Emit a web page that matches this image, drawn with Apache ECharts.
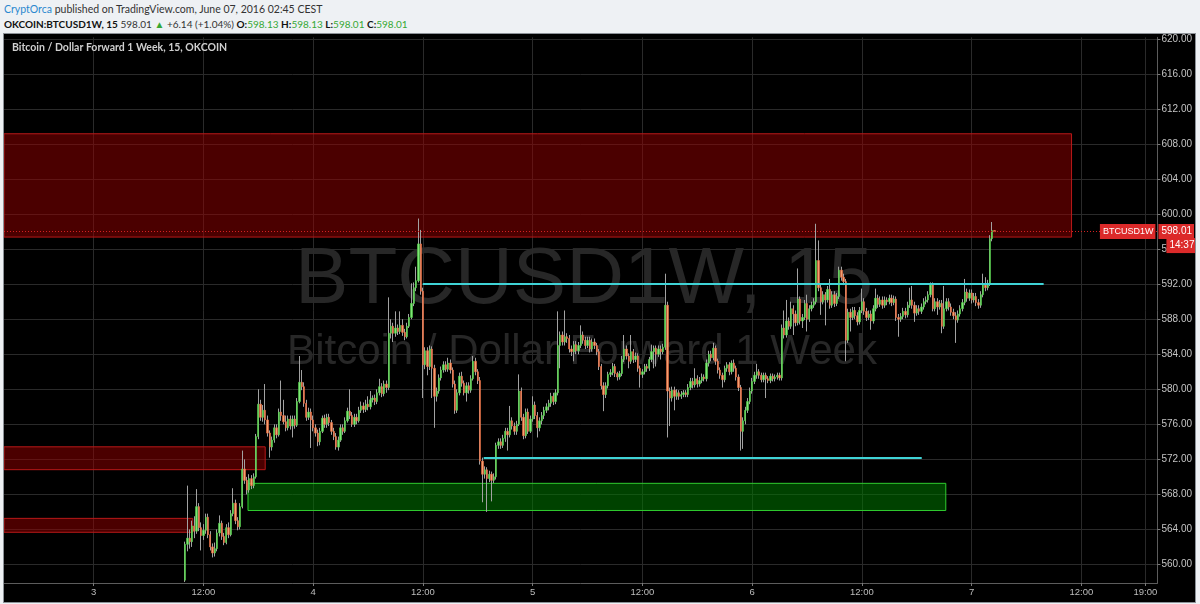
<!DOCTYPE html>
<html>
<head>
<meta charset="utf-8">
<title>BTCUSD1W, 15</title>
<script src="https://cdn.jsdelivr.net/npm/echarts@6.0.0/dist/echarts.min.js"></script>
<style>
html,body{margin:0;padding:0;width:1200px;height:604px;overflow:hidden;background:#eef1f4;}
.hdr{position:absolute;left:4px;white-space:nowrap;font-family:Lato,"Open Sans",sans-serif;line-height:14px;color:#333;}
#h1{top:2px;font-size:10.5px;}
#h2{top:17px;font-size:10px;}
.blue{color:#2a88cf;}
.b{font-weight:bold;color:#111;}
.g{color:#35a835;}
#chart{position:absolute;left:4px;top:34px;width:1191px;height:568px;background:#000;outline:1px solid #8d9298;}
</style>
</head>
<body>
<div class="hdr" id="h1"><span class="blue">CryptOrca</span> published on TradingView.com, June 07, 2016 02:45 CEST</div>
<div class="hdr" id="h2"><span class="b">OKCOIN:BTCUSD1W, 15</span> 598.01 <span class="g">&#9650;</span> +6.14 (+1.04%) <span class="b">O:</span><span class="g">598.13</span> <span class="b">H:</span><span class="g">598.13</span> <span class="b">L:</span><span class="g">598.01</span> <span class="b">C:</span><span class="g">598.01</span></div>
<div id="chart"></div>
<script>
// ---- time grid: hours after 3 June 2016 00:00, 15-minute candles ----
const firstCandleHour = 10;
const candleStepHours = 0.25;

// ---- candles [open, close, low, high] ----
const candlesJun3 = [
[558.2,562.3,558.0,562.6],[562.3,563.0,561.5,569.0],[563.0,562.6,561.8,564.0],[562.6,564.4,562.0,565.0],
[564.4,563.8,563.0,565.5],[563.8,566.6,563.5,568.6],[566.6,564.2,563.8,567.0],[564.2,563.3,561.6,564.8],
[563.3,563.9,562.8,564.6],[563.9,565.4,563.5,565.8],[565.4,563.4,563.0,565.8],[563.4,562.0,561.6,563.8],
[562.0,561.3,560.8,562.4],[561.3,561.8,560.9,562.5],[561.8,563.6,561.5,564.0],[563.6,564.7,563.2,565.6],
[564.7,563.2,562.8,565.0],[563.2,562.5,562.2,563.6],[562.5,564.2,562.3,564.6],[564.2,563.4,563.0,564.8],
[563.4,565.8,563.2,566.2],[565.8,567.0,565.5,568.7],[567.0,565.0,564.6,567.4],[565.0,564.3,563.9,565.4],
[564.3,566.6,564.0,567.0],[566.6,570.9,566.4,573.0],[570.9,569.6,569.2,572.0],[569.6,568.5,568.0,570.0],
[568.5,569.8,568.2,570.3],[569.8,569.0,568.6,570.2],[569.0,570.0,568.7,570.4],[570.0,574.6,569.8,574.9],
[574.6,578.3,574.3,580.0],[578.3,576.8,576.4,578.8],[576.8,577.6,576.3,578.2],[577.6,576.5,576.0,580.6],
[576.5,575.0,574.6,577.0],[575.0,573.4,572.2,575.3],[573.4,574.2,573.0,574.6],[574.2,575.6,573.9,576.0],
[575.6,574.8,574.4,576.0],[574.8,577.4,574.6,577.8],[577.4,577.0,576.4,581.0],[577.0,576.3,576.0,578.8],
[576.3,575.6,575.2,577.0],[575.6,576.6,575.3,577.0],[576.6,575.8,575.4,577.0],[575.8,576.6,574.5,577.0],
[576.6,575.9,575.5,577.0],[575.9,578.6,575.7,579.0],[578.6,580.8,578.4,583.8],[580.8,580.3,579.9,582.2],
[580.3,578.4,578.0,580.8],[578.4,576.8,576.4,578.8],[576.8,577.4,576.5,577.9],[577.4,576.5,573.3,577.8]
];
const candlesJun4 = [
[576.5,575.6,575.2,577.0],[575.6,575.0,574.6,576.0],[575.0,574.0,573.5,575.4],[574.0,575.2,573.6,575.6],
[575.2,576.7,575.0,577.0],[576.7,576.0,575.6,577.1],[576.0,576.8,575.6,577.2],[576.8,576.2,575.8,577.2],
[576.2,575.2,574.8,576.5],[575.2,574.6,574.2,575.6],[574.6,573.4,573.1,575.0],[573.4,574.2,573.0,574.6],
[574.2,575.6,574.0,576.0],[575.6,575.2,574.8,576.0],[575.2,576.4,575.0,576.8],[576.4,577.5,576.2,577.9],
[577.5,577.0,576.6,580.0],[577.0,576.0,575.7,577.4],[576.0,576.8,575.7,577.2],[576.8,576.4,576.0,577.2],
[576.4,577.6,576.2,578.0],[577.6,578.1,577.3,578.6],[578.1,577.7,577.3,578.5],[577.7,578.3,577.4,578.8],
[578.3,578.0,577.6,579.2],[578.0,578.8,577.7,579.8],[578.8,579.0,578.5,579.3],[579.0,578.6,578.2,579.4],
[578.6,579.6,578.3,580.0],[579.6,580.3,579.3,581.2],[580.3,579.5,579.1,580.7],[579.5,580.6,579.2,581.0],
[580.6,580.2,579.6,581.0],[580.2,586.4,579.9,590.5],[586.4,587.2,585.8,588.0],[587.2,586.4,585.4,587.6],
[586.4,587.0,586.0,588.9],[587.0,586.6,586.2,587.4],[586.6,587.3,586.3,588.9],[587.3,586.5,586.1,588.0],
[586.5,586.0,585.6,586.9],[586.0,587.2,585.8,587.6],[587.2,588.2,587.0,588.6],[588.2,589.8,588.0,592.1],
[589.8,591.6,589.5,592.2],[591.6,592.4,591.2,594.0],[592.4,596.6,592.2,599.5],[596.6,591.2,590.8,598.2],
[591.2,582.8,579.0,591.6],[582.8,584.4,582.3,584.8],[584.4,582.6,581.6,584.8],[582.6,584.6,582.2,585.0],
[584.6,582.4,579.0,584.9],[582.4,579.2,575.6,582.8],[579.2,579.8,578.6,580.2],[579.8,581.3,579.5,581.7],
[581.3,582.2,581.0,582.6],[582.2,582.8,581.9,583.2],[582.8,582.3,582.0,583.2],[582.3,583.0,582.0,583.6],
[583.0,582.2,581.8,583.4],[582.2,580.6,580.2,582.5],[580.6,577.6,577.2,581.0],[577.6,579.6,577.3,580.0],
[579.6,581.5,579.3,581.9],[581.5,580.7,580.3,582.0],[580.7,579.6,579.3,581.0],[579.6,580.4,578.6,580.8],
[580.4,579.9,579.5,580.8],[579.9,581.2,579.6,581.6],[581.2,583.2,581.0,583.8],[583.2,582.0,581.6,583.6],
[582.0,581.0,580.6,582.3],[581.0,571.8,571.4,581.4],[571.8,570.3,567.1,572.2],[570.3,570.8,569.8,571.2],
[570.8,569.8,566.0,571.1],[569.8,570.3,569.4,570.7],[570.3,569.6,567.2,570.6],[569.6,570.0,569.3,570.4],
[570.0,573.6,569.7,573.9],[573.6,574.0,573.2,574.4],[574.0,573.6,573.2,574.4],[573.6,574.4,573.3,574.8],
[574.4,575.2,574.0,575.6],[575.2,574.8,573.0,575.6],[574.8,576.4,574.5,578.1],[576.4,575.8,575.4,576.8],
[575.8,575.2,574.8,576.2],[575.2,576.0,574.8,576.4],[576.0,579.8,575.8,581.7],[579.8,576.8,576.4,580.2],
[576.8,574.7,574.3,577.2],[574.7,577.4,574.4,577.8],[577.4,575.2,574.9,577.8],[575.2,576.6,575.0,577.0]
];
const candlesJun5 = [
[576.6,578.2,576.3,579.2],[578.2,577.0,576.6,578.6],[577.0,575.6,574.5,577.4],[575.6,576.4,575.2,576.8],
[576.4,577.0,576.0,577.4],[577.0,577.6,576.6,578.0],[577.6,578.0,577.3,578.4],[578.0,578.4,577.6,578.8],
[578.4,579.2,578.0,579.6],[579.2,578.6,578.2,579.6],[578.6,579.6,578.3,580.0],[579.6,585.0,579.3,588.9],
[585.0,586.2,582.4,586.6],[586.2,585.4,585.0,586.6],[585.4,586.0,585.0,589.0],[586.0,585.8,585.3,586.4],
[585.8,584.6,584.2,586.2],[584.6,584.3,583.8,585.0],[584.3,585.1,583.2,585.5],[585.1,584.4,584.0,585.5],
[584.4,585.0,584.0,585.4],[585.0,586.2,584.7,587.3],[586.2,585.6,585.2,586.6],[585.6,585.0,584.6,586.0],
[585.0,585.6,584.7,586.0],[585.6,584.6,584.2,586.0],[584.6,585.4,584.3,585.8],[585.4,585.0,584.6,585.8],
[585.0,584.3,583.9,585.3],[584.3,582.6,582.2,584.6],[582.6,580.4,580.0,582.9],[580.4,579.4,577.5,580.8],
[579.4,580.4,579.0,580.8],[580.4,581.7,580.1,582.0],[581.7,581.9,581.4,582.3],[581.9,582.6,581.6,583.0],
[582.6,581.8,581.4,582.9],[581.8,581.4,581.0,582.0],[581.4,581.8,581.1,582.1],[581.8,583.4,581.5,583.8],
[583.4,584.6,583.1,586.2],[584.6,583.8,583.4,585.0],[583.8,583.2,582.4,584.1],[583.2,584.3,582.9,586.2],
[584.3,583.4,583.0,584.6],[583.4,583.8,583.1,584.2],[583.8,582.4,582.0,584.1],[582.4,581.7,580.2,582.7],
[581.7,582.0,581.3,582.3],[582.0,582.6,581.7,582.9],[582.6,582.4,582.0,582.9],[582.4,583.4,582.1,583.7],
[583.4,584.3,583.1,585.1],[584.3,584.7,582.4,585.0],[584.7,584.0,582.6,585.0],[584.0,584.6,583.7,585.0],
[584.6,584.3,583.4,585.0],[584.3,584.8,584.0,585.2],[584.8,589.6,584.5,593.2],[589.6,579.8,574.5,590.0],
[579.8,579.0,575.8,580.2],[579.0,579.9,578.6,580.3],[579.9,579.2,577.6,580.3],[579.2,579.6,578.8,580.0],
[579.6,579.2,578.8,579.9],[579.2,579.4,578.9,579.8],[579.4,579.6,579.1,579.9],[579.6,579.4,579.1,579.9],
[579.4,580.2,579.1,580.6],[580.2,580.9,579.9,581.3],[580.9,580.5,580.1,581.3],[580.5,581.2,580.2,582.4],
[581.2,580.6,580.2,581.6],[580.6,581.0,580.3,581.4],[581.0,581.4,580.7,581.8],[581.4,581.2,580.9,581.7],
[581.2,583.0,580.9,583.4],[583.0,584.0,582.6,584.4],[584.0,583.6,583.2,584.4],[583.6,584.7,583.3,585.3],
[584.7,583.2,582.8,585.0],[583.2,582.2,581.8,583.5],[582.2,581.6,581.2,582.5],[581.6,581.1,580.2,581.9],
[581.1,582.4,580.8,582.7],[582.4,582.8,582.0,583.1],[582.8,582.0,581.6,583.1],[582.0,583.0,581.7,583.3],
[583.0,582.4,582.0,583.4],[582.4,581.4,581.0,582.7],[581.4,580.2,579.8,581.7],[580.2,575.2,573.0,580.5],
[575.2,576.4,573.2,576.8],[576.4,577.6,576.0,578.0],[577.6,578.6,577.3,579.0],[578.6,579.8,578.3,580.2]
];
const candlesJun6 = [
[579.8,580.9,579.5,581.3],[580.9,581.6,580.6,582.0],[581.6,582.0,581.2,582.9],[582.0,581.6,581.2,582.3],
[581.6,581.1,580.8,581.9],[581.1,581.6,580.8,581.9],[581.6,581.2,579.0,581.9],[581.2,581.0,580.7,581.5],
[581.0,581.5,580.7,581.8],[581.5,581.2,580.9,581.8],[581.2,581.4,580.9,581.7],[581.4,581.6,581.1,581.9],
[581.6,581.3,581.0,581.9],[581.3,587.0,581.0,587.4],[587.0,586.2,585.8,589.0],[586.2,587.8,585.9,590.2],
[587.8,587.2,586.8,588.2],[587.2,589.2,586.9,590.0],[589.2,588.6,586.2,589.6],[588.6,587.6,587.2,589.0],
[587.6,590.3,587.3,593.8],[590.3,587.8,587.4,590.6],[587.8,588.2,587.0,588.6],[588.2,589.8,587.9,590.2],
[589.8,588.0,586.6,590.8],[588.0,589.2,587.7,589.6],[589.2,589.6,588.9,590.0],[589.6,590.0,589.3,590.4],
[590.0,594.7,589.7,598.9],[594.7,591.6,591.2,597.0],[591.6,590.0,588.5,592.0],[590.0,590.8,589.7,591.2],
[590.8,590.2,587.3,591.1],[590.2,591.4,589.9,591.8],[591.4,589.6,589.2,592.6],[589.6,590.8,589.3,591.2],
[590.8,589.8,589.4,591.2],[589.8,590.6,589.5,591.0],[590.6,593.6,590.3,594.0],[593.6,592.8,592.4,594.0],
[592.8,592.3,591.9,593.2],[592.3,585.6,583.2,592.6],[585.6,588.8,585.3,589.2],[588.8,588.2,586.6,589.2],
[588.2,589.0,587.9,589.4],[589.0,588.4,588.0,589.4],[588.4,587.7,587.3,588.8],[587.7,589.0,587.4,589.4],
[589.0,590.0,588.7,591.5],[590.0,588.9,588.5,590.4],[588.9,588.2,587.8,589.3],[588.2,588.6,587.9,589.0],
[588.6,587.8,586.8,589.0],[587.8,589.2,587.5,589.6],[589.2,590.4,588.9,591.5],[590.4,589.7,589.3,590.8],
[589.7,590.2,589.4,590.6],[590.2,589.6,589.2,590.6],[589.6,590.2,589.3,590.6],[590.2,590.0,589.6,590.5],
[590.0,590.4,589.7,590.8],[590.4,589.9,589.5,590.8],[589.9,590.3,589.6,590.7],[590.3,588.2,587.8,590.6],
[588.2,588.0,586.0,588.6],[588.0,588.3,587.7,588.7],[588.3,588.9,588.0,589.3],[588.9,588.5,588.1,589.3],
[588.5,589.6,588.2,590.0],[589.6,590.2,589.3,591.6],[590.2,589.6,589.2,591.8],[589.6,588.7,587.7,590.0],
[588.7,589.2,588.4,589.6],[589.2,588.9,588.5,589.6],[588.9,589.4,588.6,589.8],[589.4,590.0,589.1,590.4],
[590.0,590.2,589.7,590.6],[590.2,590.8,589.9,591.2],[590.8,591.9,590.5,592.2],[591.9,589.2,588.9,592.2],
[589.2,590.0,588.9,590.4],[590.0,589.4,588.5,590.4],[589.4,589.8,589.1,590.2],[589.8,587.2,586.4,590.2],
[587.2,589.2,586.9,591.8],[589.2,590.0,588.9,590.4],[590.0,589.4,589.0,590.4],[589.4,588.8,588.4,589.8],
[588.8,588.4,588.0,589.2],[588.4,587.9,585.3,588.8],[587.9,588.6,587.6,589.0],[588.6,589.2,588.3,589.6],
[589.2,589.9,588.9,590.3],[589.9,591.1,589.6,592.6],[591.1,590.4,590.0,591.5],[590.4,591.0,590.1,591.4]
];
const candlesJun7 = [
[591.0,590.2,589.8,591.4],[590.2,590.6,589.9,591.0],[590.6,589.9,589.5,591.0],[589.9,589.6,589.2,590.3],
[589.6,590.8,589.3,591.2],[590.8,591.9,590.5,593.2],[591.9,591.6,591.2,592.8],[591.6,592.1,591.3,592.5],
[592.1,597.2,591.8,597.6],[597.2,598.13,596.9,599.1],[598.13,598.01,598.01,598.13]
];

// ---- drawn levels (hours, price) ----
const supplyZones = [            // [startHour, endHour, lowPrice, highPrice]
  [-9.81, 106.92, 597.38, 609.18],
  [-9.81, 18.75, 570.82, 573.43],
  [-9.81, 10.83, 563.67, 565.26]
];
const demandZones = [
  [16.87, 93.17, 566.16, 569.26]
];
const levelLines = [             // [startHour, endHour, price]
  [35.98, 103.87, 592.08],
  [42.64, 90.54, 572.21]
];

// ---- axis ticks ----
const xTickHours  = [0, 12, 24, 36, 48, 60, 72, 84, 96, 108, 115];
const xTickLabels = ['3', '12:00', '4', '12:00', '5', '12:00', '6', '12:00', '7', '12:00', '19:00'];
const yTickValues = [560, 564, 568, 572, 576, 580, 584, 588, 592, 596, 600, 604, 608, 612, 616, 620];
const symbolName = 'BTCUSD1W';
const countdownText = '14:37';
const titleText = 'Bitcoin / Dollar Forward 1 Week, 15, OKCOIN';
const watermarkMain = 'BTCUSD1W, 15';
const watermarkSub = 'Bitcoin / Dollar Forward 1 Week';

const XMIN = -9.81, XMAX = 116.31, YMIN = 557.88, YMAX = 620.19;

const allCandles = [].concat(candlesJun3, candlesJun4, candlesJun5, candlesJun6, candlesJun7);
const wickData = allCandles.map((d, i) => [firstCandleHour + i * candleStepHours, d[0], d[1], d[2], d[3]]);
const bodyData = allCandles.map((d, i) => [firstCandleHour + i * candleStepHours, d[0], d[1], Math.min(d[0], d[1]), Math.max(d[0], d[1])]);
const lastClose = allCandles[allCandles.length - 1][1];

const UP_FILL = '#7ee676', UP_BORDER = '#52cc48', DN_FILL = '#f5a070', DN_BORDER = '#ea6840', WICK = '#a2a2a2';
const AXIS_FONT = '"Liberation Sans", Arial, sans-serif';

const tagLabel = {
  show: true, color: '#fff', backgroundColor: '#dc2a2a', fontSize: 9, fontFamily: AXIS_FONT,
  padding: [2, 2, 2, 3], lineHeight: 11
};

const chart = echarts.init(document.getElementById('chart'), null, { renderer: 'canvas' });
chart.setOption({
  animation: false,
  backgroundColor: '#000',
  title: {
    text: titleText, left: 3, top: 3,
    textStyle: { color: '#cfcfcf', fontSize: 10.5, fontWeight: 'bold', fontFamily: 'Lato, "Open Sans", sans-serif' }
  },
  graphic: [
    { type: 'text', z: 0, silent: true, x: 580, y: 247,
      style: { text: watermarkMain, fill: '#272727', font: '80px "Liberation Sans", Arial, sans-serif', textAlign: 'center', textVerticalAlign: 'middle' } },
    { type: 'text', z: 0, silent: true, x: 578, y: 318,
      style: { text: watermarkSub, fill: '#272727', font: '42px "Liberation Sans", Arial, sans-serif', textAlign: 'center', textVerticalAlign: 'middle' } }
  ],
  grid: { left: 0, right: 36, top: 0, bottom: 19, containLabel: false },
  xAxis: {
    type: 'value', min: XMIN, max: XMAX,
    axisLine: { show: true, onZero: false, lineStyle: { color: '#5c5c5c' } },
    axisTick: { show: true, length: 3, lineStyle: { color: '#7a7a7a' }, customValues: xTickHours },
    axisLabel: {
      customValues: xTickHours, color: '#bdbdbd', fontSize: 9.5, fontFamily: AXIS_FONT, margin: 4,
      formatter: v => { const k = xTickHours.indexOf(Math.round(v)); return k >= 0 ? xTickLabels[k] : ''; }
    },
    splitLine: { show: true, lineStyle: { color: '#2a2a2a', width: 1 } }
  },
  yAxis: {
    type: 'value', position: 'right', min: YMIN, max: YMAX, scale: true,
    axisLine: { show: true, onZero: false, lineStyle: { color: '#5c5c5c' } },
    axisTick: { show: true, length: 3, lineStyle: { color: '#7a7a7a' }, customValues: yTickValues },
    axisLabel: { customValues: yTickValues, color: '#c4c4c4', fontSize: 10, fontFamily: AXIS_FONT, margin: 4,
      formatter: v => v.toFixed(2) },
    splitLine: { show: true, lineStyle: { color: '#2a2a2a', width: 1 } }
  },
  series: [
    {
      name: 'wicks', type: 'candlestick', data: wickData, encode: { x: 0, y: [1, 2, 3, 4] },
      barWidth: 0.4, z: 3, silent: true,
      itemStyle: { color: WICK, color0: WICK, borderColor: WICK, borderColor0: WICK, borderColorDoji: WICK, borderWidth: 1 },
      markArea: {
        silent: true,
        data: supplyZones.map(z => [
          { coord: [z[0], z[2]], itemStyle: { color: 'rgba(150,0,0,0.5)', borderColor: '#b81818', borderWidth: 1 } },
          { coord: [z[1], z[3]] }
        ]).concat(demandZones.map(z => [
          { coord: [z[0], z[2]], itemStyle: { color: 'rgba(0,120,0,0.55)', borderColor: '#2fcc2f', borderWidth: 1 } },
          { coord: [z[1], z[3]] }
        ]))
      }
    },
    {
      name: 'bodies', type: 'candlestick', data: bodyData, encode: { x: 0, y: [1, 2, 3, 4] },
      barWidth: 1.8, z: 4, silent: true,
      itemStyle: { color: UP_FILL, color0: DN_FILL, borderColor: UP_BORDER, borderColor0: DN_BORDER, borderColorDoji: UP_BORDER, borderWidth: 0.6 },
      markLine: {
        silent: true, symbol: ['none', 'none'], animation: false,
        label: { show: false },
        data: levelLines.map(l => [
          { coord: [l[0], l[2]], lineStyle: { color: '#3fd3d6', width: 2, type: 'solid' } },
          { coord: [l[1], l[2]] }
        ]).concat([
          { yAxis: lastClose, lineStyle: { color: '#d42020', width: 1, type: [1, 2] } }
        ])
      },
      markPoint: {
        silent: true, symbol: 'circle', symbolSize: 0, animation: false,
        itemStyle: { color: 'transparent' },
        data: [
          { coord: [XMAX, lastClose], label: Object.assign({}, tagLabel, { position: 'right', distance: 1, fontSize: 10, formatter: lastClose.toFixed(2) }) },
          { coord: [XMAX, lastClose], label: Object.assign({}, tagLabel, { position: 'left', distance: 2, formatter: symbolName }) },
          { coord: [XMAX, lastClose], label: Object.assign({}, tagLabel, { position: 'right', distance: 9, offset: [0, 14], fontSize: 10, formatter: countdownText }) }
        ]
      }
    }
  ]
});
</script>
</body>
</html>
